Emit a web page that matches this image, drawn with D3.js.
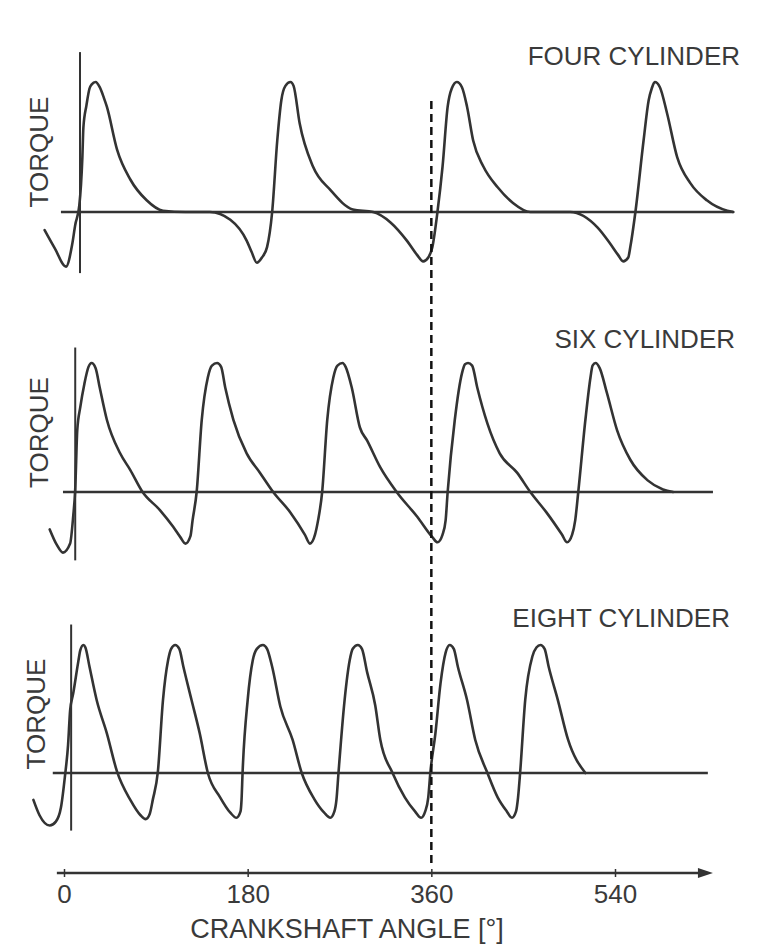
<!DOCTYPE html>
<html>
<head>
<meta charset="utf-8">
<script src="https://cdn.jsdelivr.net/npm/d3@7"></script>
<style>
  html, body { margin: 0; padding: 0; background: #ffffff; }
  svg { display: block; }
  text { font-family: "Liberation Sans", Arial, Helvetica, sans-serif; fill: #3a3a3a; }
</style>
</head>
<body>
<svg id="chart" width="758" height="947"></svg>
<script>
// ---------------- DATA ----------------
const panelTitles = ["FOUR CYLINDER", "SIX CYLINDER", "EIGHT CYLINDER"];
const axisTickValues = [0, 180, 360, 540];
const axisTickLabels = ["0", "180", "360", "540"];
const xAxisTitle = "CRANKSHAFT ANGLE [°]";
const yAxisTitle = "TORQUE";
const markerAngle = 360;

// crankshaft angle [deg] and relative torque [% of peak]
const fourAngle = [-19,-9,2,8,11,15,18,19,22,25,27,31,35,39,42,52,65,81,97,119,143,163,179,184,189,194,199,204,209,213,217,222,225,231,244,261,283,303,320,336,346,352,357,361,366,371,376,380,385,390,395,401,411,425,440,457,496,523,535,543,548,553,555,560,568,573,576,579,584,591,601,614,630,650,656];
const fourTorque = [-14,-28,-42,-25,-10,5,42,65,82,95,98,100,96,88,81,48,25,9,1,0,0,-6,-22,-31,-39,-35,-27,0,55,86,97,100,97,68,35,17,2,0,-8,-22,-33,-38,-35,-27,0,35,81,95,100,96,81,55,35,19,7,0,0,-12,-24,-33,-38,-35,-27,0,55,86,95,100,96,76,42,22,9,1,0];

const sixAngle = [-14,-7,-1,6,9,11,13,16,20,24,27,31,35,42,55,65,77,94,107,114,119,124,126,130,135,141,145,150,154,158,166,179,192,205,222,236,241,246,249,253,258,264,268,273,276,282,290,297,310,326,346,361,366,371,374,376,383,390,393,396,400,405,415,427,444,457,473,488,493,498,501,504,511,516,518,521,525,532,542,555,572,587,597];
const sixTorque = [-29,-41,-47,-40,-19,2,48,66,84,97,100,96,81,56,30,17,0,-14,-27,-35,-40,-34,-22,0,56,89,98,100,97,81,56,30,15,0,-16,-33,-40,-33,-22,0,56,89,98,100,97,81,50,40,19,0,-19,-35,-39,-33,-22,0,56,92,99,100,98,81,53,30,15,0,-16,-33,-39,-33,-22,0,56,89,98,100,96,77,48,25,9,2,0];

const eightAngle = [-30,-24,-14,-8,-3,1,4,6,9,14,16,19,21,25,32,42,52,65,75,80,84,87,92,97,102,105,109,113,117,125,133,141,153,163,169,173,174,175,180,185,189,195,199,204,212,224,233,245,255,261,265,267,269,275,280,283,288,292,297,305,310,322,334,344,350,354,357,359,364,369,374,378,382,386,395,403,415,425,434,439,443,445,447,452,459,463,467,471,475,484,494,511];
const eightTorque = [-21,-33,-41,-38,-27,-2,22,49,62,87,96,100,98,83,57,31,1,-21,-33,-36,-32,-21,1,57,88,97,100,97,83,57,31,0,-19,-31,-35,-30,-21,0,57,88,97,100,97,83,52,26,0,-20,-31,-35,-30,-21,0,57,88,97,100,97,79,53,26,0,-19,-30,-35,-30,-19,0,31,70,94,100,97,83,57,26,0,-19,-30,-35,-30,-19,0,57,91,98,100,97,83,57,26,0];

// extents of the hand-drawn reference axes in each panel (angle, torque units)
const baselineStart = [-3, -1, -11];
const baselineEnd = [656, 636, 631];
const yAxisAngle = [15.7, 11, 7];
const yAxisTop = [123, 112, 116];
const yAxisBottom = [-47, -53, -45];

// ---------------- LAYOUT ----------------
const svg = d3.select("#chart");
const ink = "#333333";
const x = d3.scaleLinear().domain([0, 540]).range([64, 615]);

const panelBase = [212, 492, 773];
const panelPeak = [82, 363, 645];
const titleX = [740, 735, 730];
const titleY = [65, 348, 627];
const torqueLabelX = [48, 48, 45];

const series = [
  {a: fourAngle, t: fourTorque},
  {a: sixAngle, t: sixTorque},
  {a: eightAngle, t: eightTorque}
];

series.forEach((s, i) => {
  const y = d3.scaleLinear().domain([0, 100]).range([panelBase[i], panelPeak[i]]);
  const g = svg.append("g");

  // baseline (zero torque)
  g.append("line")
    .attr("x1", x(baselineStart[i])).attr("x2", x(baselineEnd[i]))
    .attr("y1", y(0)).attr("y2", y(0))
    .attr("stroke", ink).attr("stroke-width", 2.4);

  // vertical torque axis
  g.append("line")
    .attr("x1", x(yAxisAngle[i])).attr("x2", x(yAxisAngle[i]))
    .attr("y1", y(yAxisTop[i])).attr("y2", y(yAxisBottom[i]))
    .attr("stroke", ink).attr("stroke-width", 2);

  // torque curve
  const pts = s.a.map((a, k) => [a, s.t[k]]);
  const line = d3.line()
    .x(d => x(d[0]))
    .y(d => y(d[1]))
    .curve(d3.curveMonotoneX);
  g.append("path")
    .attr("d", line(pts))
    .attr("fill", "none")
    .attr("stroke", ink)
    .attr("stroke-width", 2.6)
    .attr("stroke-linejoin", "round")
    .attr("stroke-linecap", "round");

  // panel title
  g.append("text")
    .attr("x", titleX[i]).attr("y", titleY[i])
    .attr("text-anchor", "end")
    .attr("font-size", 26)
    .text(panelTitles[i]);

  // TORQUE label
  g.append("text")
    .attr("transform", `translate(${torqueLabelX[i]},${(panelPeak[i] + panelBase[i]) / 2 + 5}) rotate(-90)`)
    .attr("text-anchor", "middle")
    .attr("font-size", 26)
    .text(yAxisTitle);
});

// ---------------- CRANKSHAFT AXIS ----------------
const axisY = 873;
const axisG = svg.append("g").attr("transform", `translate(0,${axisY})`);
const xAxis = d3.axisBottom(x)
  .tickValues(axisTickValues)
  .tickFormat((d, k) => axisTickLabels[k])
  .tickSizeOuter(0);
axisG.call(xAxis);
axisG.select(".domain").remove();
axisG.selectAll(".tick line")
  .attr("y1", -4).attr("y2", 4)
  .attr("stroke", ink).attr("stroke-width", 1.5);
axisG.selectAll(".tick text")
  .attr("y", 30).attr("dy", 0)
  .attr("font-size", 26)
  .attr("font-family", "Liberation Sans, Arial, sans-serif")
  .attr("fill", "#3a3a3a");

// main axis line with arrow
const axisStart = x(-7), axisEnd = x(636);
axisG.append("line")
  .attr("x1", axisStart).attr("x2", axisEnd - 6)
  .attr("y1", 0).attr("y2", 0)
  .attr("stroke", ink).attr("stroke-width", 2.6);
axisG.append("path")
  .attr("d", `M${axisEnd},0 L${axisEnd - 15},-5 L${axisEnd - 15},5 Z`)
  .attr("fill", ink);

// axis title
svg.append("text")
  .attr("x", 347).attr("y", 938)
  .attr("text-anchor", "middle")
  .attr("font-size", 27)
  .text(xAxisTitle);

// ---------------- 360° MARKER ----------------
svg.append("line")
  .attr("x1", x(markerAngle)).attr("x2", x(markerAngle))
  .attr("y1", 101).attr("y2", 868)
  .attr("stroke", "#111")
  .attr("stroke-width", 2.5)
  .attr("stroke-dasharray", "8,5");
</script>
</body>
</html>
